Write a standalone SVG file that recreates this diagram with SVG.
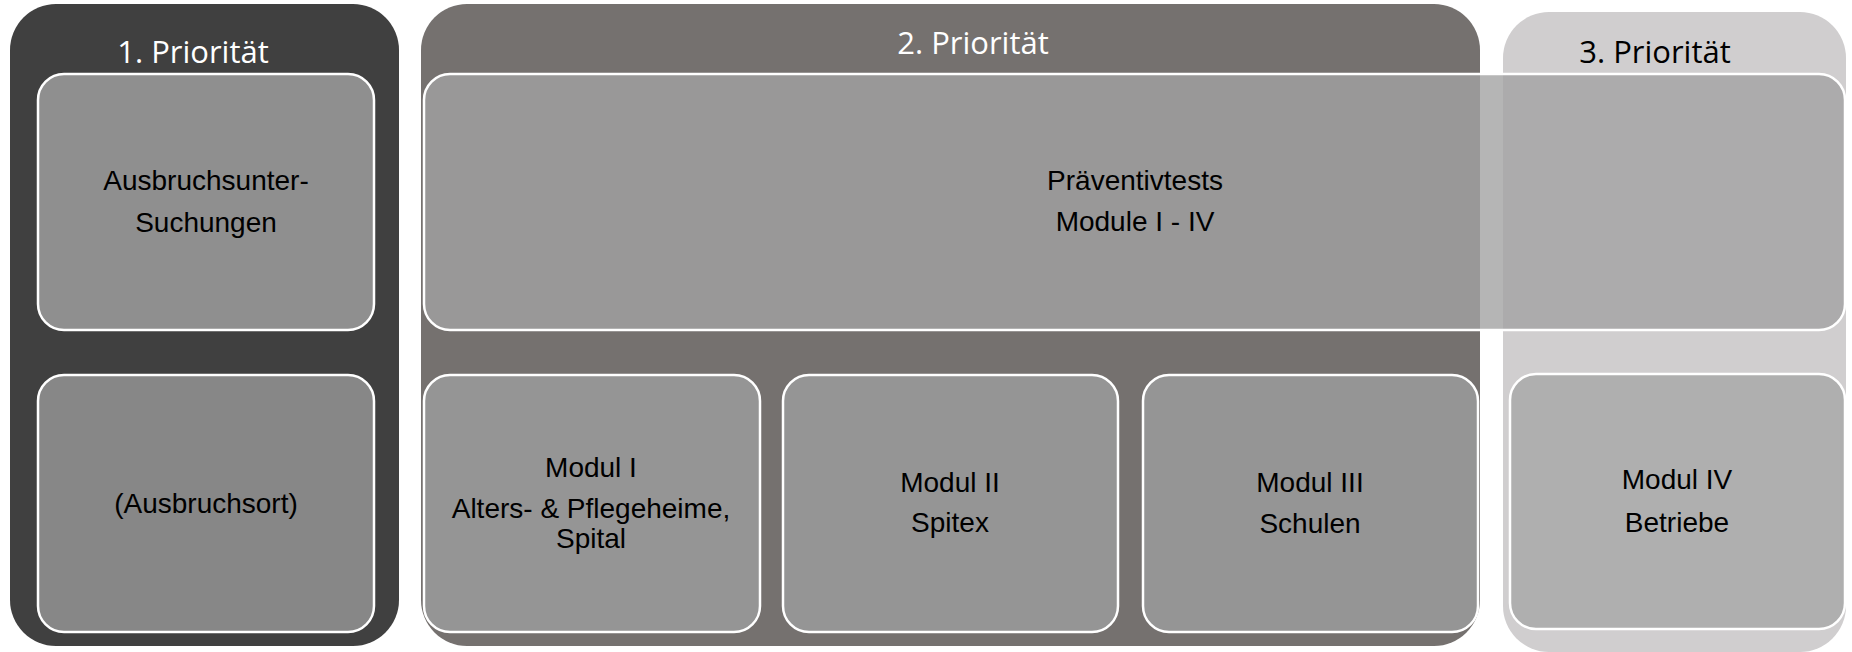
<svg xmlns="http://www.w3.org/2000/svg" width="1852" height="652" viewBox="0 0 1852 652">
<style>
.title{font-family:"Open Sans","Liberation Sans",sans-serif;font-size:31px;text-anchor:middle}
.lbl{font-family:"Liberation Sans",Arial,sans-serif;font-size:28px;text-anchor:middle;fill:#000}
.box{stroke:#ffffff;stroke-width:2.5}
</style>
<rect width="1852" height="652" fill="#ffffff"/>
<g id="panel1">
<rect x="10" y="4" width="389" height="642" rx="46" fill="#404040"/>
<text class="title" x="193" y="63" fill="#ffffff">1. Priorität</text>
</g>
<g id="panel2">
<rect x="421" y="4" width="1059" height="642" rx="46" fill="#75716f"/>
<text class="title" x="973" y="54" fill="#ffffff">2. Priorität</text>
</g>
<g id="panel3">
<rect x="1503" y="12" width="343" height="640" rx="46" fill="#d0cecf"/>
<text class="title" x="1655" y="63" fill="#000000">3. Priorität</text>
</g>
<g id="ausbruchsuntersuchungen">
<rect class="box" x="38" y="74" width="336" height="256" rx="26" fill="#8f8f8f"/>
<text class="lbl" x="206" y="190">Ausbruchsunter-</text>
<text class="lbl" x="206" y="232">Suchungen</text>
</g>
<g id="ausbruchsort">
<rect class="box" x="38" y="375" width="336" height="257" rx="26" fill="#878787"/>
<text class="lbl" x="206" y="513">(Ausbruchsort)</text>
</g>
<g id="praeventivtests">
<rect class="box" x="424" y="74" width="1421" height="256" rx="26" fill="#a2a2a2" fill-opacity="0.8"/>
<text class="lbl" x="1135" y="190">Präventivtests</text>
<text class="lbl" x="1135" y="231">Module I - IV</text>
</g>
<g id="modul1">
<rect class="box" x="424" y="375" width="336" height="257" rx="26" fill="#959595"/>
<text class="lbl" x="591" y="477">Modul I</text>
<text class="lbl" x="591" y="518">Alters- &amp; Pflegeheime,</text>
<text class="lbl" x="591" y="548">Spital</text>
</g>
<g id="modul2">
<rect class="box" x="783" y="375" width="335" height="257" rx="26" fill="#959595"/>
<text class="lbl" x="950" y="492">Modul II</text>
<text class="lbl" x="950" y="532">Spitex</text>
</g>
<g id="modul3">
<rect class="box" x="1143" y="375" width="335" height="257" rx="26" fill="#959595"/>
<text class="lbl" x="1310" y="492">Modul III</text>
<text class="lbl" x="1310" y="533">Schulen</text>
</g>
<g id="modul4">
<rect class="box" x="1510" y="374" width="335" height="255" rx="26" fill="#afafaf"/>
<text class="lbl" x="1677" y="489">Modul IV</text>
<text class="lbl" x="1677" y="532">Betriebe</text>
</g>
<g id="connectors"></g>
</svg>
